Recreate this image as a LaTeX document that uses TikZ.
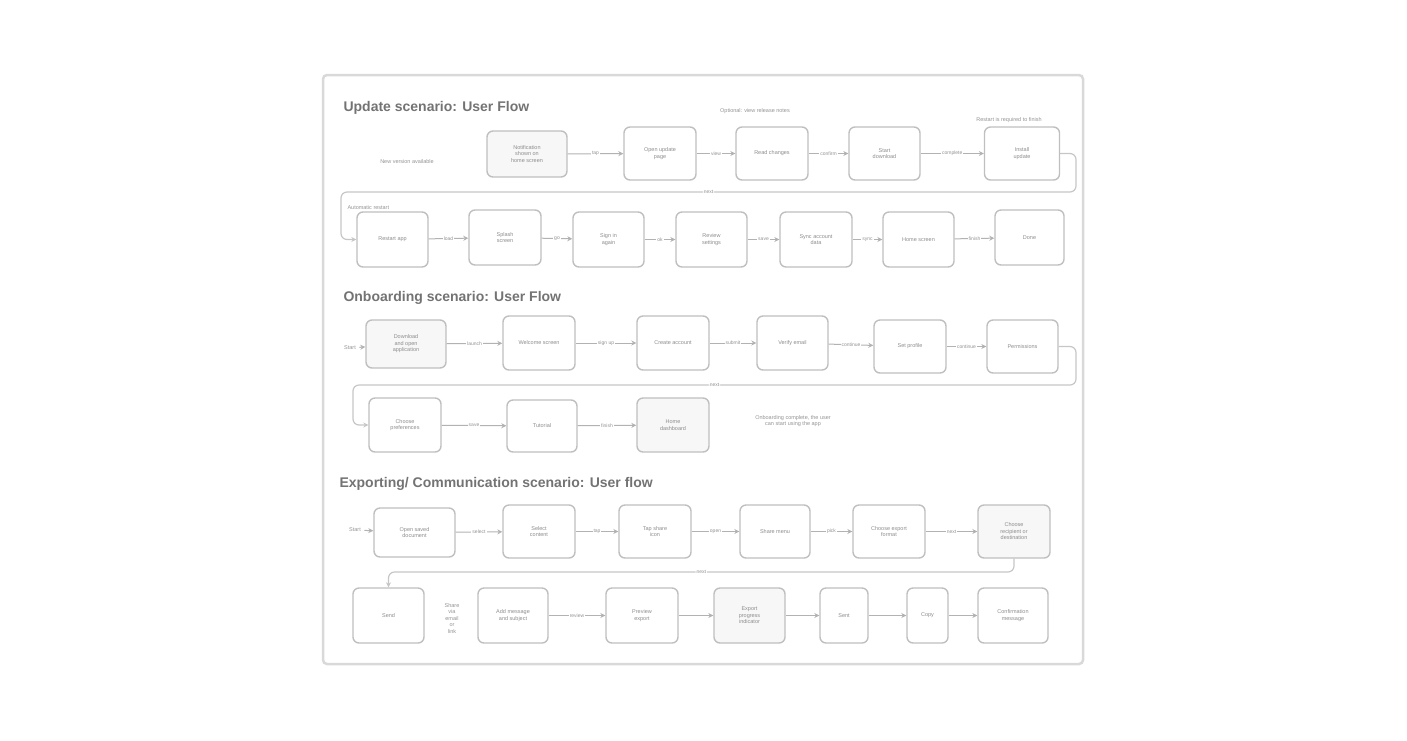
\documentclass[tikz,border=0pt]{standalone}
\usepackage{fontspec}
\setmainfont{Liberation Sans}
\usetikzlibrary{arrows.meta}
\begin{document}
\begin{tikzpicture}[x=1pt,y=-1pt,
  box/.style={draw=gray!50, line width=1.4pt, rounded corners=6pt, align=center, text=gray!90,
     font=\fontsize{5.5}{6.5}\selectfont, inner sep=2pt},
  conn/.style={draw=gray!60, line width=1pt, -{Stealth[length=5pt,width=5pt]}},
  loopc/.style={draw=gray!45, line width=1.2pt, rounded corners=6pt, -{Stealth[length=5pt,width=5pt]}},
  lbl/.style={fill=white, inner sep=1pt, text=gray!85, font=\fontsize{5}{6}\selectfont},
  note/.style={text=gray!85, font=\fontsize{5.5}{6.5}\selectfont, align=center},
  ttl/.style={anchor=west, text=gray!90!black, font=\fontsize{14}{16}\selectfont\bfseries}
]
\useasboundingbox (0,0) rectangle (1407,740);
\node[draw=gray!30, line width=2.5pt, rounded corners=4pt, minimum width=760, minimum height=589] (frame) at (703,369.5) {};

% ---------- Update scenario ----------
\node[ttl] (t1) at (340,108) {Update scenario: User Flow};
\node[note] (a0) at (407,162) {New version available};
\node[box, minimum width=80, minimum height=46, fill=gray!6] (a1) at (527,154) {Notification\\shown on\\home screen};
\node[box, minimum width=72, minimum height=53] (a2) at (660,153.5) {Open update\\page};
\node[box, minimum width=72, minimum height=53] (a3) at (772,153.5) {Read changes};
\node[box, minimum width=71, minimum height=53] (a4) at (884.5,153.5) {Start\\download};
\node[box, minimum width=75, minimum height=53] (a5) at (1022,153.5) {Install\\update};
\node[note] (la3) at (755,111) {Optional: view release notes};
\node[note] (la5) at (1009,120) {Restart is required to finish};
\draw[conn] (a1) -- node[lbl]{tap} (a2);
\draw[conn] (a2) -- node[lbl]{view} (a3);
\draw[conn] (a3) -- node[lbl]{confirm} (a4);
\draw[conn] (a4) -- node[lbl]{complete} (a5);

\node[box, minimum width=71, minimum height=55] (b1) at (392.5,239.5) {Restart app};
\node[box, minimum width=72, minimum height=55] (b2) at (505,237.5) {Splash\\screen};
\node[box, minimum width=71, minimum height=55] (b3) at (608.5,239.5) {Sign in\\again};
\node[box, minimum width=71, minimum height=55] (b4) at (711.5,239.5) {Review\\settings};
\node[box, minimum width=72, minimum height=55] (b5) at (816,239.5) {Sync account\\data};
\node[box, minimum width=71, minimum height=55] (b6) at (918.5,239.5) {Home screen};
\node[box, minimum width=69, minimum height=55] (b7) at (1029.5,237.5) {Done};
\node[note, anchor=west] (lb) at (344,208) {Automatic restart};
\coordinate (l1a) at (1076,153.5);
\coordinate (l1b) at (1076,192);
\coordinate (l1c) at (341,192);
\coordinate (l1d) at (341,239.5);
\draw[loopc] (a5.east) -- (l1a) -- (l1b) -- node[lbl]{next} (l1c) -- (l1d) -- (b1.west);
\draw[conn] (b1) -- node[lbl]{load} (b2);
\draw[conn] (b2) -- node[lbl]{go} (b3);
\draw[conn] (b3) -- node[lbl]{ok} (b4);
\draw[conn] (b4) -- node[lbl]{save} (b5);
\draw[conn] (b5) -- node[lbl]{sync} (b6);
\draw[conn] (b6) -- node[lbl]{finish} (b7);

% ---------- Onboarding scenario ----------
\node[ttl] (t2) at (340,298) {Onboarding scenario: User Flow};
\node[note] (c0) at (350,348) {Start};
\node[box, minimum width=80, minimum height=48, fill=gray!6] (c1) at (406,344) {Download\\and open\\application};
\node[box, minimum width=72, minimum height=54] (c2) at (539,343) {Welcome screen};
\node[box, minimum width=72, minimum height=54] (c3) at (673,343) {Create account};
\node[box, minimum width=71, minimum height=54] (c4) at (792.5,343) {Verify email};
\node[box, minimum width=72, minimum height=53] (c5) at (910,346.5) {Set profile};
\node[box, minimum width=71, minimum height=53] (c6) at (1022.5,346.5) {Permissions};
\draw[conn] (c0) -- (c1);
\draw[conn] (c1) -- node[lbl]{launch} (c2);
\draw[conn] (c2) -- node[lbl]{sign up} (c3);
\draw[conn] (c3) -- node[lbl]{submit} (c4);
\draw[conn] (c4) -- node[lbl]{continue} (c5);
\draw[conn] (c5) -- node[lbl]{continue} (c6);

\node[box, minimum width=72, minimum height=54] (d1) at (405,425) {Choose\\preferences};
\node[box, minimum width=70, minimum height=52] (d2) at (542,426) {Tutorial};
\node[box, minimum width=72, minimum height=54, fill=gray!6] (d3) at (673,425) {Home\\dashboard};
\node[note] (dn) at (793,421) {Onboarding complete, the user\\can start using the app};
\coordinate (l2a) at (1076,346.5);
\coordinate (l2b) at (1076,385);
\coordinate (l2c) at (353,385);
\coordinate (l2d) at (353,425);
\draw[loopc] (c6.east) -- (l2a) -- (l2b) -- node[lbl]{next} (l2c) -- (l2d) -- (d1.west);
\draw[conn] (d1) -- node[lbl]{save} (d2);
\draw[conn] (d2) -- node[lbl]{finish} (d3);

% ---------- Exporting scenario ----------
\node[ttl] (t3) at (336,484) {Exporting/ Communication scenario: User flow};
\node[note] (e0) at (355,530) {Start};
\node[box, minimum width=81, minimum height=49] (e1) at (414.5,532.5) {Open saved\\document};
\node[box, minimum width=72, minimum height=53] (e2) at (539,531.5) {Select\\content};
\node[box, minimum width=72, minimum height=53] (e3) at (655,531.5) {Tap share\\icon};
\node[box, minimum width=70, minimum height=53] (e4) at (775,531.5) {Share menu};
\node[box, minimum width=72, minimum height=53] (e5) at (889,531.5) {Choose export\\format};
\node[box, minimum width=72, minimum height=53, fill=gray!6] (e6) at (1014,531.5) {Choose\\recipient or\\destination};
\draw[conn] (e0) -- (e1);
\draw[conn] (e1) -- node[lbl]{select} (e2);
\draw[conn] (e2) -- node[lbl]{tap} (e3);
\draw[conn] (e3) -- node[lbl]{open} (e4);
\draw[conn] (e4) -- node[lbl]{pick} (e5);
\draw[conn] (e5) -- node[lbl]{next} (e6);

\node[box, minimum width=71, minimum height=55] (f1) at (388.5,615.5) {Send};
\node[note] (fn) at (452,618) {Share\\via\\email\\or\\link};
\node[box, minimum width=70, minimum height=55] (f2) at (513,615.5) {Add message\\and subject};
\node[box, minimum width=72, minimum height=55] (f3) at (642,615.5) {Preview\\export};
\node[box, minimum width=71, minimum height=55, fill=gray!6] (f4) at (749.5,615.5) {Export\\progress\\indicator};
\node[box, minimum width=48, minimum height=55] (f5) at (844,615.5) {Sent};
\node[box, minimum width=41, minimum height=55] (f6) at (927.5,615.5) {Copy};
\node[box, minimum width=70, minimum height=55] (f7) at (1013,615.5) {Confirmation\\message};
\coordinate (l3a) at (1014,572);
\coordinate (l3b) at (388.5,572);
\draw[loopc] (e6.south) -- (l3a) -- node[lbl]{next} (l3b) -- (f1.north);
\draw[conn] (f2) -- node[lbl]{review} (f3);
\draw[conn] (f3) -- (f4);
\draw[conn] (f4) -- (f5);
\draw[conn] (f5) -- (f6);
\draw[conn] (f6) -- (f7);
\end{tikzpicture}
\end{document}
